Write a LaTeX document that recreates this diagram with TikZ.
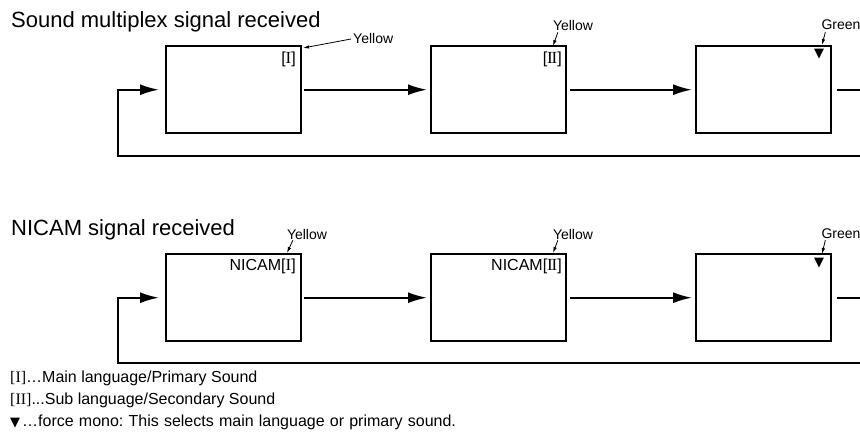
\documentclass[tikz,border=0pt]{standalone}
\usepackage{fontspec}
\setmainfont{Liberation Sans}
\newfontfamily\dvs{DejaVu Sans}
\newfontfamily\lserif{Liberation Serif}
\usetikzlibrary{arrows.meta,calc}
\frenchspacing
\begin{document}
\begin{tikzpicture}[x=1pt,y=-1pt,
  modebox/.style={draw, line width=2.4pt, minimum width=135pt, minimum height=87pt, inner sep=0pt, anchor=north west},
  flow/.style={line width=2pt, -{Latex[length=19pt,width=11pt]}},
  plain/.style={line width=2pt},
  callout/.style={line width=0.8pt, -{Latex[length=6pt,width=3.5pt]}},
  lbl/.style={font=\fontsize{14}{16}\selectfont, inner sep=0pt},
  intext/.style={font=\fontsize{16}{18}\selectfont, inner sep=0pt, anchor=east},
  title/.style={font=\fontsize{22}{26}\selectfont, anchor=base west, inner sep=0pt},
  legend/.style={font=\fontsize{16}{18}\selectfont, anchor=west, inner sep=0pt}]
\useasboundingbox (0,0) rectangle (860,434);

% ---- titles
\node[title] (t1) at (11,27) {Sound multiplex signal received};
\node[title] (t2) at (11,235) {NICAM signal received};

% ---- row 1
\node[modebox] (a1) at (165,45) {};
\node[modebox] (a2) at (430,45) {};
\node[modebox] (a3) at (695,45) {};
\node[intext] (i11) at (296,59) {[{\lserif\fontsize{17}{18}\selectfont I}]};
\node[intext] (i12) at (562,59) {[{\lserif\fontsize{17}{18}\selectfont I\kern-1.2pt I}]};
\node[font=\dvs\fontsize{13}{14}\selectfont, inner sep=0pt] (i13) at (819,54) {▼};

\coordinate (r1) at (860,156);
\coordinate (l1) at (118,156);
\draw[flow, shorten <=2pt, shorten >=3pt] (a1.east) -- (a2.west);
\draw[flow, shorten <=3pt, shorten >=3pt] (a2.east) -- (a3.west);
\draw[plain, shorten <=5pt] (a3.east) -- (a3.east -| r1);
\draw[flow, shorten >=6pt] (r1) -- (l1) |- (a1.west);

\node[lbl, anchor=west] (y11) at (353,38) {Yellow};
\node[lbl] (y12) at (573,25) {Yellow};
\node[lbl] (g13) at (841,25) {Green};
\coordinate (c11) at (303,48);
\coordinate (c12) at (553,46);
\coordinate (c13) at (822,45);
\draw[callout] ($(y11.west)+(-2,1)$) -- (c11);
\draw[callout] ($(y12.south west)+(5,2)$) -- (c12);
\draw[callout] ($(g13.south west)+(4,2)$) -- (c13);

% ---- row 2
\node[modebox] (b1) at (165,253) {};
\node[modebox] (b2) at (430,253) {};
\node[modebox] (b3) at (695,253) {};
\node[intext] (i21) at (296,266) {NICAM[{\lserif\fontsize{17}{18}\selectfont I}]};
\node[intext] (i22) at (562,266) {NICAM[{\lserif\fontsize{17}{18}\selectfont I\kern-1.2pt I}]};
\node[font=\dvs\fontsize{13}{14}\selectfont, inner sep=0pt] (i23) at (819,263) {▼};

\coordinate (r2) at (860,363);
\coordinate (l2) at (118,363);
\draw[flow, shorten <=2pt, shorten >=3pt] (b1.east) -- (b2.west);
\draw[flow, shorten <=3pt, shorten >=3pt] (b2.east) -- (b3.west);
\draw[plain, shorten <=5pt] (b3.east) -- (b3.east -| r2);
\draw[flow, shorten >=6pt] (r2) -- (l2) |- (b1.west);

\node[lbl] (y21) at (307,234) {Yellow};
\node[lbl] (y22) at (573,234) {Yellow};
\node[lbl] (g23) at (841,234) {Green};
\coordinate (c21) at (287,253);
\coordinate (c22) at (553,253);
\coordinate (c23) at (822,254);
\draw[callout] ($(y21.south west)+(6,1)$) -- (c21);
\draw[callout] ($(y22.south west)+(5,1)$) -- (c22);
\draw[callout] ($(g23.south west)+(4,1)$) -- (c23);

% ---- legend
\node[legend] (k1) at (10,378) {{\lserif [I]}…Main language/Primary Sound};
\node[legend] (k2) at (10,400) {{\lserif [II]}...Sub language/Secondary Sound};
\node[legend] (k3) at (10,422) {\spaceskip=5.2pt plus 1pt{\dvs\fontsize{13}{14}\selectfont ▼}\kern2pt…force mono: This selects main language or primary sound.};
\end{tikzpicture}
\end{document}
